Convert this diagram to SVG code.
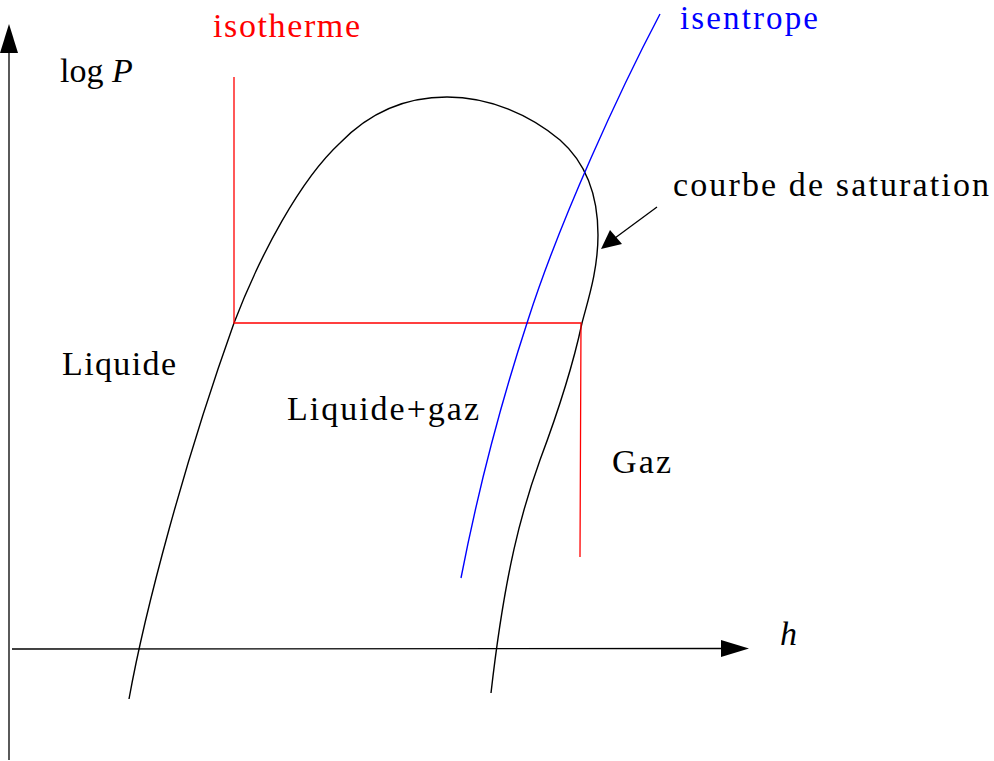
<svg xmlns="http://www.w3.org/2000/svg" width="994" height="761" viewBox="0 0 994 761">
<defs>
<style>
text{font-family:"Liberation Serif","Times New Roman",serif;font-size:34px;fill:#000}
.ax{stroke:#000;stroke-width:1.3;fill:none}
.sat{stroke:#000;stroke-width:1.4;fill:none}
.iso{stroke:#ff0000;stroke-width:1.3;fill:none}
.ise{stroke:#0000ff;stroke-width:1.4;fill:none}
.head{fill:#000;stroke:none}
</style>
</defs>
<rect width="994" height="761" fill="#fff"/>
<g id="connectors">
<line class="ax" x1="9" y1="760" x2="9" y2="50"/>
<polygon class="head" points="9,24 0,53 18,53"/>
<line class="ax" x1="12" y1="649" x2="724" y2="648.5"/>
<polygon class="head" points="749,648.5 721,640 721,657"/>
<line class="ax" x1="657" y1="207" x2="615" y2="238"/>
<polygon class="head" points="601,249 610,230 622,244"/>
</g>
<g id="saturation">
<path class="sat" d="M129,699 C145,610 185,460 234,323 C260,255 300,180 340,143 C370,112 405,97 447,97 C490,97 530,115 560,140 C585,162 598,195 598,235 C598,270 588,300 582,323 C572,370 555,420 540,460 C522,510 505,570 491,693"/>
</g>
<g id="isotherme">
<polyline class="iso" points="234,77 234,323 581,323 580,557"/>
<text x="213" y="37" style="fill:#ff0000" textLength="147">isotherme</text>
</g>
<g id="isentrope">
<path class="ise" d="M660,14 C620,90 560,220 528,320 C505,390 480,480 461,578"/>
<text x="680" y="29" style="fill:#0000ff;font-size:33px" textLength="138">isentrope</text>
</g>
<g id="labels">
<text x="60" y="82">log <tspan font-style="italic">P</tspan></text>
<text x="673" y="196" textLength="316">courbe de saturation</text>
<text x="62" y="375" textLength="114">Liquide</text>
<text x="287" y="420" textLength="192">Liquide+gaz</text>
<text x="612" y="473" textLength="59">Gaz</text>
<text x="780" y="645" font-style="italic">h</text>
</g>
</svg>
